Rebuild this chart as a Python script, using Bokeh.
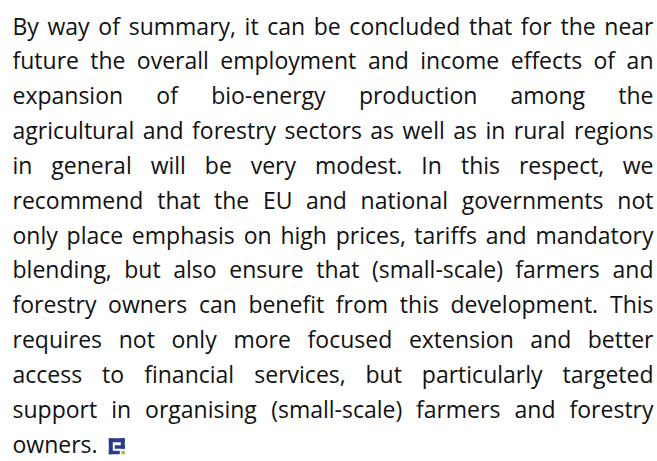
from bokeh.plotting import figure
from bokeh.models import ColumnDataSource, Range1d
from bokeh.core.properties import value
from bokeh.embed import file_html
from bokeh.resources import INLINE

# ---- content ----
lines = [
    "By way of summary, it can be concluded that for the near",
    "future the overall employment and income effects of an",
    "expansion of bio-energy production among the",
    "agricultural and forestry sectors as well as in rural regions",
    "in general will be very modest. In this respect, we",
    "recommend that the EU and national governments not",
    "only place emphasis on high prices, tariffs and mandatory",
    "blending, but also ensure that (small-scale) farmers and",
    "forestry owners can benefit from this development. This",
    "requires not only more focused extension and better",
    "access to financial services, but particularly targeted",
    "support in organising (small-scale) farmers and forestry",
    "owners.",
]

# ---- layout / style ----
W, H = 657, 461
X0, X1 = 12.0, 653.0
BASE0, LEAD = 35.0, 34.85     # visual baseline of first line, line spacing
TEXT_SHIFT = 10.0             # renderer places alphabetic baseline ~10px lower
FONT = "Open Sans"
TEXT_COLOR = "#111111"
BLUE = "#2c3b8f"
GREEN = "#8cc63f"

# approximate Open Sans advance widths (units per em = 2048)
ADV = {
    ' ': 532, ',': 502, '.': 545, '-': 659, '(': 584, ')': 584,
    'a': 1139, 'b': 1255, 'c': 975, 'd': 1255, 'e': 1149, 'f': 694,
    'g': 1122, 'h': 1257, 'i': 518, 'j': 518, 'k': 1075, 'l': 518,
    'm': 1905, 'n': 1257, 'o': 1237, 'p': 1255, 'q': 1255, 'r': 836,
    's': 977, 't': 723, 'u': 1257, 'v': 1026, 'w': 1593, 'x': 1073,
    'y': 1028, 'z': 977, 'B': 1315, 'E': 1147, 'I': 600, 'T': 1124,
    'U': 1466,
}


def em_width(s):
    return sum(ADV.get(c, 1100) for c in s) / 2048.0


# choose font size so every justified line keeps a sensible gap
fs = 23.0
for ln in lines[:-1]:
    words = ln.split()
    need = (X1 - X0 - (len(words) - 1) * 4.5) / sum(em_width(w) for w in words)
    fs = min(fs, need)

lx, ly, lt = [], [], []
rx, ry, rt = [], [], []
last_end = X0
for i, ln in enumerate(lines):
    words = ln.split()
    y = BASE0 - TEXT_SHIFT + i * LEAD
    if i == len(lines) - 1:
        x = X0
        for w in words:
            lx.append(x); ly.append(y); lt.append(w)
            x += (em_width(w) + em_width(' ')) * fs
        last_end = x - em_width(' ') * fs
        continue
    widths = [em_width(w) * fs for w in words]
    gap = (X1 - X0 - sum(widths)) / (len(words) - 1)
    x = X0
    for j, w in enumerate(words):
        if j == len(words) - 1:
            rx.append(X1); ry.append(y); rt.append(w)
        else:
            lx.append(x); ly.append(y); lt.append(w)
        x += widths[j] + gap

p = figure(width=W, height=H, output_backend="svg", toolbar_location=None,
           x_range=Range1d(0, W), y_range=Range1d(H, 0), min_border=0)
p.axis.visible = False
p.grid.visible = False
p.outline_line_color = None
p.background_fill_color = "white"
p.border_fill_color = "white"

common = dict(text_font=value(FONT), text_font_size=f"{fs:.2f}px",
              text_color=TEXT_COLOR, text_baseline="alphabetic")
p.text(x="x", y="y", text="t", source=ColumnDataSource(dict(x=lx, y=ly, t=lt)),
       text_align="left", **common)
p.text(x="x", y="y", text="t", source=ColumnDataSource(dict(x=rx, y=ry, t=rt)),
       text_align="right", **common)

# logo after the final word, sitting on its baseline
L = last_end + 11
B = BASE0 + (len(lines) - 1) * LEAD + 0.5
T = B - 16
parts = [  # (x0, x1, y0, y1) in a 16-unit box, y downward
    (0, 16, 0, 4),
    (0, 4, 0, 16),
    (12, 16, 0, 10.5),
    (6, 16, 7, 10.5),
    (0, 11, 12.5, 16),
]
p.quad(left=[L + a for a, b, c, d in parts], right=[L + b for a, b, c, d in parts],
       top=[T + c for a, b, c, d in parts], bottom=[T + d for a, b, c, d in parts],
       fill_color=BLUE, line_color=None)
p.quad(left=[L + 12.5], right=[L + 16], top=[T + 12.5], bottom=[T + 16],
       fill_color=GREEN, line_color=None)

open("out.html", "w").write(file_html(p, INLINE))
